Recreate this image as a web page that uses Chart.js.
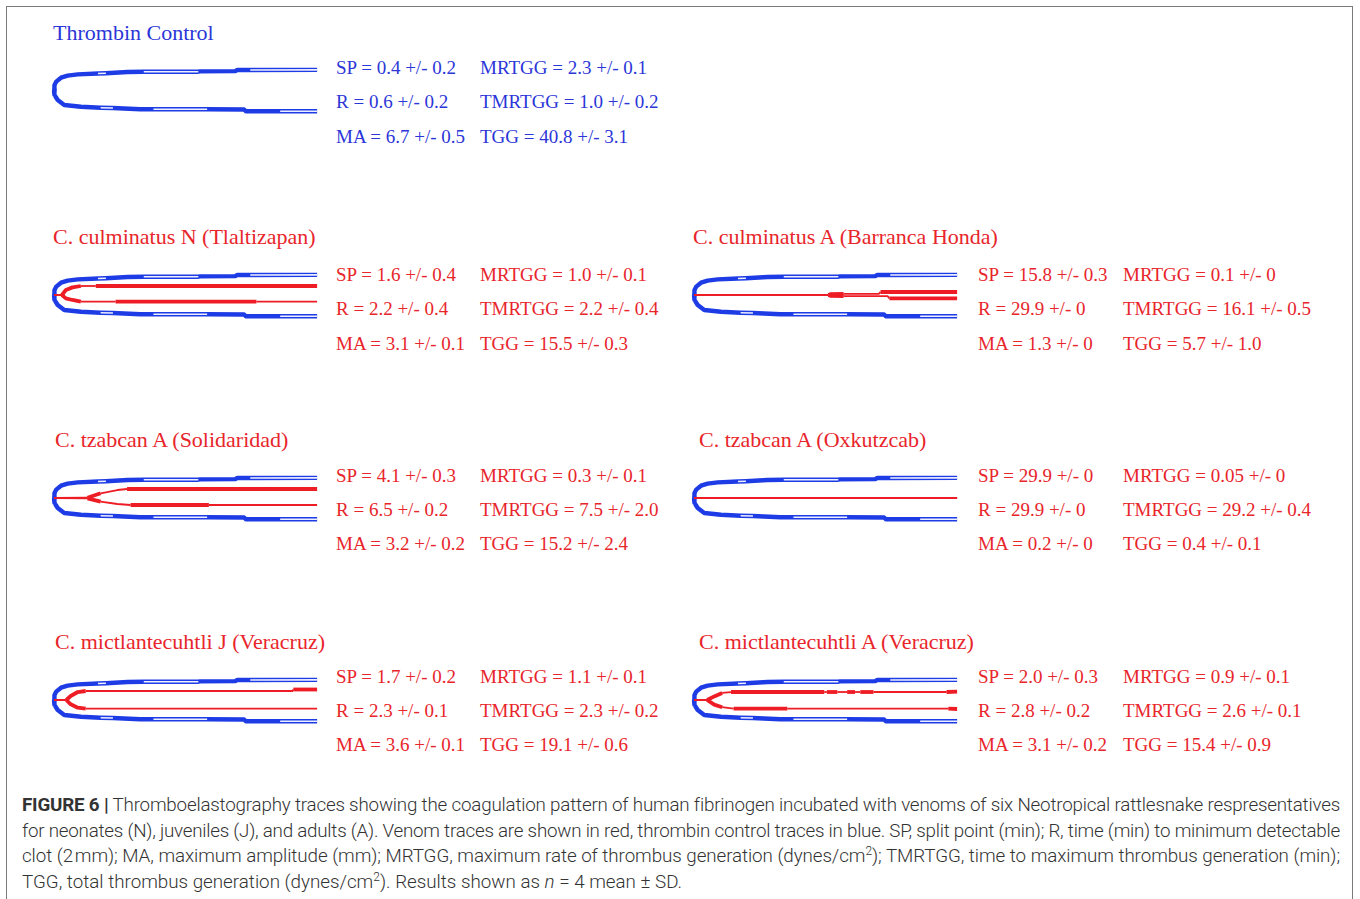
<!DOCTYPE html>
<html lang="en">
<head>
<meta charset="UTF-8">
<title>Figure 6 - Thromboelastography traces</title>
<script src="https://cdn.jsdelivr.net/npm/chart.js@4.4.0/dist/chart.umd.min.js"></script>
<style>
  html, body { margin: 0; padding: 0; background: #fff; }
  body { width: 1360px; height: 899px; position: relative; overflow: hidden; }
  #frame { position: absolute; left: 6px; top: 6px; width: 1347px; height: 1000px;
           border: 1.5px solid #7a7a7a; box-sizing: border-box; }
  .title, .stat { position: absolute; font-family: "Liberation Serif", "DejaVu Serif", serif;
                  white-space: nowrap; line-height: 24px; }
  .title { font-size: 22px; }
  .stat { font-size: 19px; }
  .blue { color: #2b36d8; }
  .red { color: #e8252b; }
  canvas.trace { position: absolute; }
  #caption { position: absolute; left: 22px; top: 793px; width: 1318px;
             font-family: "Roboto", "Liberation Sans", sans-serif; font-weight: 300;
             font-size: 18.8px; line-height: 25.7px; color: #333; }
  #caption div { white-space: nowrap; text-align: justify; text-align-last: justify; }
  #caption div.last { text-align-last: left; }
  #caption b { font-weight: 700; }
  #caption sup { font-size: 12px; line-height: 0; }
</style>
</head>
<body>
<div id="frame"></div>
<div id="texts"></div>
<div id="caption">
  <div><b>FIGURE 6 |</b> Thromboelastography traces showing the coagulation pattern of human fibrinogen incubated with venoms of six Neotropical rattlesnake respresentatives</div>
  <div>for neonates (N), juveniles (J), and adults (A). Venom traces are shown in red, thrombin control traces in blue. SP, split point (min); R, time (min) to minimum detectable</div>
  <div>clot (2&#8202;mm); MA, maximum amplitude (mm); MRTGG, maximum rate of thrombus generation (dynes/cm<sup>2</sup>); TMRTGG, time to maximum thrombus generation (min);</div>
  <div class="last">TGG, total thrombus generation (dynes/cm<sup>2</sup>). Results shown as <i>n</i> = 4 mean ± SD.</div>
</div>

<script>
// ---- data: [time (min), half amplitude (mm)] ----
// thrombin control (blue), same trace in every panel
const controlUpper = [[0,0],[0.05,0.8],[0.25,1.4],[0.8,2.05],[1.55,2.4],[2.7,2.6],[5.0,2.75],[5.9,2.8],
  [8.35,3.0],[10.2,3.05],[16.4,3.05],[16.6,3.1],[20.6,3.15],[20.8,3.33],[22.3,3.33],[29.9,3.35]];
const controlLower = [[0,0],[0.05,0.8],[0.42,1.67],[1.17,2.5],[3.06,2.8],[5.3,2.95],[6.7,3.0],[9.8,3.2],
  [11.3,3.2],[17.4,3.2],[21.6,3.25],[21.8,3.55],[25.7,3.55],[29.9,3.55]];
const controlUpperHollow = [[5.0,5.9],[10.2,16.4],[22.3,29.9]];
const controlLowerHollow = [[5.3,6.7],[11.3,17.4],[25.7,29.9]];

// venom traces (red)
const culmNUpper = [[0,0],[0.9,0],[1.35,0.83],[2.1,1.27],[3.05,1.5],[4.75,1.5],[29.9,1.5]];
const culmNLower = [[0,0],[0.9,0],[1.35,0.57],[2.1,0.83],[3.05,1.12],[7,1.12],[23,1.12],[29.9,1.12]];
const culmNUpperThick = [[0.9,3.05],[4.75,29.9]];
const culmNLowerThick = [[0.9,3.05],[7,23]];

const culmAUpper = [[0,0],[15.3,0],[15.5,0.15],[17,0.2],[21,0.2],[21.2,0.5],[29.9,0.5]];
const culmALower = [[0,0],[15.3,0],[15.5,0.15],[17,0.2],[22,0.2],[22.2,0.55],[29.9,0.55]];
const culmAUpperThick = [[15.3,17],[21.2,29.9]];
const culmALowerThick = [[15.3,17],[22.2,29.9]];

const tzabSolUpper = [[0,0],[3.8,0.05],[5.3,0.78],[7.2,1.33],[8.3,1.5],[29.9,1.5]];
const tzabSolLower = [[0,0],[3.8,0.05],[5.3,0.6],[7.2,1.0],[8.7,1.17],[17.6,1.17],[29.9,1.17]];
const tzabSolUpperThick = [[3.8,5.3],[8.3,29.9]];
const tzabSolLowerThick = [[3.8,5.3],[8.7,17.6]];

const tzabOxUpper = [[0,0],[29.9,0]];
const tzabOxLower = [[0,0],[29.9,0]];
const tzabOxUpperThick = [];
const tzabOxLowerThick = [];

const mictJUpper = [[0,0],[1.4,0],[1.9,0.67],[2.7,1.33],[3.6,1.5],[27.1,1.5],[27.2,1.75],[29.9,1.75]];
const mictJLower = [[0,0],[1.4,0],[1.9,0.72],[2.7,1.28],[3.6,1.45],[29.9,1.45]];
const mictJUpperThick = [[1.4,3.6],[27.2,29.9]];
const mictJLowerThick = [[1.4,3.6]];

const mictAUpper = [[0,0],[1.5,0],[2.3,0.6],[3.2,1.17],[4.2,1.33],[14.8,1.33],[15.1,1.33],[16.3,1.33],
  [17.4,1.33],[18.3,1.33],[18.9,1.33],[20.4,1.33],[28.7,1.33],[29.9,1.4]];
const mictALower = [[0,0],[1.5,0],[2.3,0.78],[3.2,1.2],[4.5,1.45],[10.6,1.45],[28.9,1.45],[29.9,1.5]];
const mictAUpperThick = [[1.5,3.2],[4.2,14.8],[15.1,16.3],[17.4,18.3],[18.9,20.4],[28.7,29.9]];
const mictALowerThick = [[1.5,3.2],[4.5,10.6],[28.9,29.9]];

// panel titles and summary values (as printed)
const panelTitles = ['Thrombin Control', 'C. culminatus N (Tlaltizapan)', 'C. culminatus A (Barranca Honda)',
  'C. tzabcan A (Solidaridad)', 'C. tzabcan A (Oxkutzcab)', 'C. mictlantecuhtli J (Veracruz)', 'C. mictlantecuhtli A (Veracruz)'];
const statNames = ['SP', 'MRTGG', 'R', 'TMRTGG', 'MA', 'TGG'];
const controlStats = ['0.4 +/- 0.2', '2.3 +/- 0.1', '0.6 +/- 0.2', '1.0 +/- 0.2', '6.7 +/- 0.5', '40.8 +/- 3.1'];
const culmNStats   = ['1.6 +/- 0.4', '1.0 +/- 0.1', '2.2 +/- 0.4', '2.2 +/- 0.4', '3.1 +/- 0.1', '15.5 +/- 0.3'];
const culmAStats   = ['15.8 +/- 0.3', '0.1 +/- 0', '29.9 +/- 0', '16.1 +/- 0.5', '1.3 +/- 0', '5.7 +/- 1.0'];
const tzabSolStats = ['4.1 +/- 0.3', '0.3 +/- 0.1', '6.5 +/- 0.2', '7.5 +/- 2.0', '3.2 +/- 0.2', '15.2 +/- 2.4'];
const tzabOxStats  = ['29.9 +/- 0', '0.05 +/- 0', '29.9 +/- 0', '29.2 +/- 0.4', '0.2 +/- 0', '0.4 +/- 0.1'];
const mictJStats   = ['1.7 +/- 0.2', '1.1 +/- 0.1', '2.3 +/- 0.1', '2.3 +/- 0.2', '3.6 +/- 0.1', '19.1 +/- 0.6'];
const mictAStats   = ['2.0 +/- 0.3', '0.9 +/- 0.1', '2.8 +/- 0.2', '2.6 +/- 0.1', '3.1 +/- 0.2', '15.4 +/- 0.9'];

// ---- layout ----
const BLUE = '#1e3ce6', RED = '#ee1c24', HOLLOW = 'rgba(236,239,255,1)';
const PX_PER_MIN = 8.8, PX_PER_MM = 6;
const CANVAS_W = 283, CANVAS_H = 70, T0_OFFSET = 10;   // t = 0 sits 10px into the canvas

const panels = [
  { title: panelTitles[0], stats: controlStats, color: 'blue', venom: null,
    t0: 54, cy: 90, titleX: 53, titleY: 33, statX: [336, 480], statY: [68, 102, 137] },
  { title: panelTitles[1], stats: culmNStats, color: 'red',
    venom: [culmNUpper, culmNLower, culmNUpperThick, culmNLowerThick],
    t0: 54, cy: 295, titleX: 53, titleY: 237, statX: [336, 480], statY: [275, 309, 344] },
  { title: panelTitles[2], stats: culmAStats, color: 'red',
    venom: [culmAUpper, culmALower, culmAUpperThick, culmALowerThick],
    t0: 694, cy: 295, titleX: 693, titleY: 237, statX: [978, 1123], statY: [275, 309, 344] },
  { title: panelTitles[3], stats: tzabSolStats, color: 'red',
    venom: [tzabSolUpper, tzabSolLower, tzabSolUpperThick, tzabSolLowerThick],
    t0: 54, cy: 498, titleX: 55, titleY: 440, statX: [336, 480], statY: [476, 510, 544] },
  { title: panelTitles[4], stats: tzabOxStats, color: 'red',
    venom: [tzabOxUpper, tzabOxLower, tzabOxUpperThick, tzabOxLowerThick],
    t0: 694, cy: 498, titleX: 699, titleY: 440, statX: [978, 1123], statY: [476, 510, 544] },
  { title: panelTitles[5], stats: mictJStats, color: 'red',
    venom: [mictJUpper, mictJLower, mictJUpperThick, mictJLowerThick],
    t0: 54, cy: 700, titleX: 55, titleY: 642, statX: [336, 480], statY: [677, 711, 745] },
  { title: panelTitles[6], stats: mictAStats, color: 'red',
    venom: [mictAUpper, mictALower, mictAUpperThick, mictALowerThick],
    t0: 694, cy: 700, titleX: 699, titleY: 642, statX: [978, 1123], statY: [677, 711, 745] }
];

const texts = document.getElementById('texts');
function addText(cls, str, x, cy) {
  const d = document.createElement('div');
  d.className = cls;
  d.textContent = str;
  d.style.left = x + 'px';
  d.style.top = (cy - 12) + 'px';
  texts.appendChild(d);
}

const inRanges = ranges => ctx => {
  const m = (ctx.p0.parsed.x + ctx.p1.parsed.x) / 2;
  return ranges.some(r => m >= r[0] && m <= r[1]);
};
const toXY = (arr, sign) => arr.map(p => ({ x: p[0], y: sign * p[1] }));

function redSet(arr, sign, thick) {
  return {
    data: toXY(arr, sign), showLine: true, pointRadius: 0, borderColor: RED, borderWidth: 1.8,
    borderJoinStyle: 'round',
    segment: { borderWidth: ctx => inRanges(thick)(ctx) ? 3.8 : 1.8 }
  };
}
function hollowSet(arr, sign, hollow) {
  return {
    data: toXY(arr, sign), showLine: true, pointRadius: 0, borderWidth: 1.6,
    borderColor: 'rgba(0,0,0,0)',
    segment: { borderColor: ctx => inRanges(hollow)(ctx) ? HOLLOW : 'rgba(0,0,0,0)' }
  };
}
function blueSet(arr, sign) {
  return { data: toXY(arr, sign), showLine: true, pointRadius: 0, borderColor: BLUE,
           borderWidth: 4.4, borderJoinStyle: 'round' };
}

panels.forEach(p => {
  addText('title ' + p.color, p.title, p.titleX, p.titleY);
  for (let r = 0; r < 3; r++) {
    for (let c = 0; c < 2; c++) {
      const k = r * 2 + c;
      addText('stat ' + p.color, statNames[k] + ' = ' + p.stats[k], p.statX[c], p.statY[r]);
    }
  }

  const cv = document.createElement('canvas');
  cv.className = 'trace';
  cv.width = CANVAS_W; cv.height = CANVAS_H;
  cv.style.left = (p.t0 - T0_OFFSET) + 'px';
  cv.style.top = (p.cy - CANVAS_H / 2) + 'px';
  document.body.appendChild(cv);

  // first dataset is drawn on top
  const datasets = [];
  if (p.venom) {
    datasets.push(redSet(p.venom[0], 1, p.venom[2]));
    datasets.push(redSet(p.venom[1], -1, p.venom[3]));
  }
  datasets.push(hollowSet(controlUpper, 1, controlUpperHollow));
  datasets.push(hollowSet(controlLower, -1, controlLowerHollow));
  datasets.push(blueSet(controlUpper, 1));
  datasets.push(blueSet(controlLower, -1));

  const xMin = -T0_OFFSET / PX_PER_MIN;
  const yHalf = CANVAS_H / 2 / PX_PER_MM;
  new Chart(cv, {
    type: 'scatter',
    data: { datasets },
    options: {
      responsive: false, animation: false, devicePixelRatio: 1,
      layout: { padding: 0 },
      plugins: { legend: { display: false }, tooltip: { enabled: false } },
      events: [],
      scales: {
        x: { type: 'linear', display: false, min: xMin, max: xMin + CANVAS_W / PX_PER_MIN },
        y: { type: 'linear', display: false, min: -yHalf, max: yHalf }
      }
    }
  });
});

// keep each caption line on one row, tightening spacing if the font runs wide
document.querySelectorAll('#caption div').forEach(line => {
  let ls = 0;
  while (line.scrollWidth > line.clientWidth && ls > -1.5) {
    ls -= 0.02;
    line.style.letterSpacing = ls + 'px';
  }
});
</script>
</body>
</html>
